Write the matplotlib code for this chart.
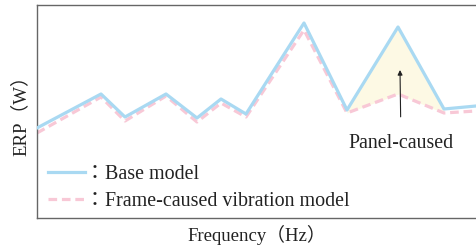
import matplotlib.pyplot as plt
import numpy as np
from matplotlib.lines import Line2D

# frequency positions (arbitrary units) and ERP values (arbitrary units)
freq = [0, 64, 88, 129, 160, 184, 209, 267, 310, 361, 407, 439]
base_erp = [90, 124, 101, 124, 100, 119, 104, 195, 108, 191, 109, 112]
frame_erp = [85, 121, 97, 122, 96, 115, 101, 188, 105, 124, 105, 107]

fonts = ['Liberation Serif', 'Noto Sans CJK JP']
plt.rcParams['font.family'] = fonts
plt.rcParams['text.color'] = '#222222'
plt.rcParams['axes.labelcolor'] = '#222222'

blue = '#a9d9f2'
pink = '#f8c8d6'
dash = (2.7, 1.5)

fig = plt.figure(figsize=(4.76, 2.5), dpi=100)
ax = fig.add_axes([37 / 476, 32 / 250, 439 / 476, 213 / 250])

f = np.array(freq)
b = np.array(base_erp)
p = np.array(frame_erp)
mask = (f >= 310) & (f <= 407)
ax.fill_between(f[mask], p[mask], b[mask], color='#fdf9e4', lw=0, zorder=1)

ax.plot(freq, frame_erp, color=pink, lw=2.3, dashes=dash, zorder=2)
ax.plot(freq, base_erp, color=blue, lw=2.3, zorder=3)

ax.annotate('Panel-caused', xy=(363, 148), xytext=(364, 75),
            ha='center', va='center', fontsize=14.3,
            arrowprops=dict(arrowstyle='-|>', color='#222222', lw=0.8,
                            mutation_scale=7, shrinkA=10, shrinkB=0))

handles = [Line2D([], [], color=blue, lw=2.3),
           Line2D([], [], color=pink, lw=2.3, dashes=dash)]
ax.legend(handles, ['：Base model', '：Frame-caused vibration model'],
          loc='lower left', bbox_to_anchor=(0.009, 0.0), frameon=False,
          fontsize=14.4, handlelength=1.85, handletextpad=0.0,
          labelspacing=0.39, borderaxespad=0.1, borderpad=0.25)

ax.set_xlim(0, 439)
ax.set_ylim(0, 213)
ax.set_xticks([])
ax.set_yticks([])
for s in ax.spines.values():
    s.set_color('#666666')
    s.set_linewidth(1.0)
ax.spines['right'].set_visible(False)

ax.set_xlabel('Frequency（Hz）', fontsize=13.5, labelpad=5)
ax.set_ylabel('ERP（W）', fontsize=13.5, labelpad=5)

fig.savefig('out.png', dpi=100)
